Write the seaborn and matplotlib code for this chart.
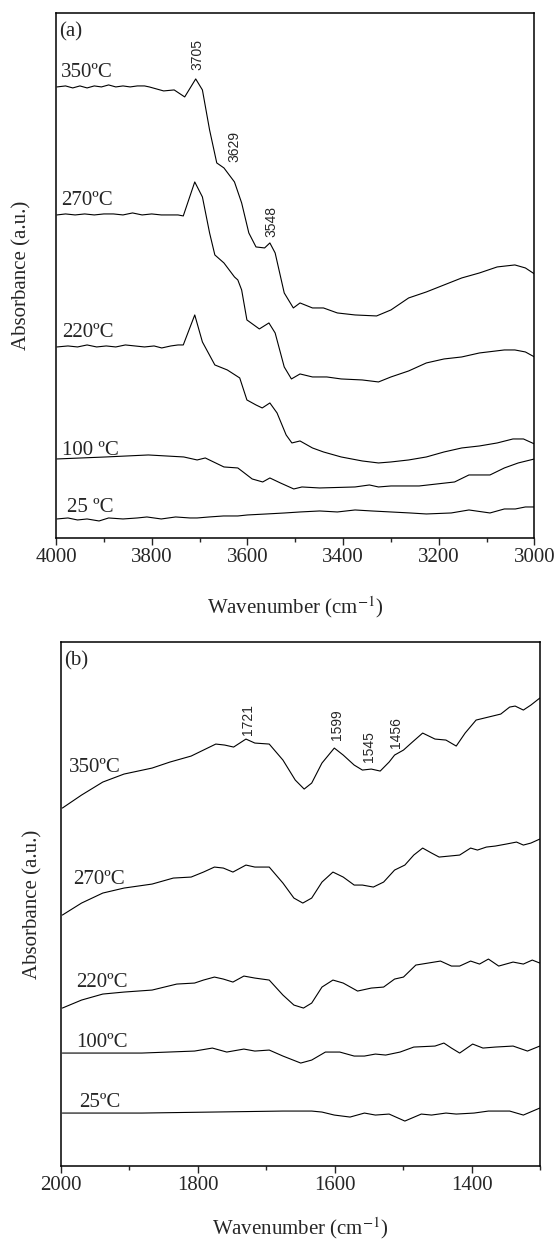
import numpy as np
import pandas as pd
import seaborn as sns
import matplotlib.pyplot as plt
from matplotlib.ticker import MultipleLocator

sns.set_style('ticks')
plt.rcParams['font.family'] = ['Liberation Serif', 'DejaVu Serif']
plt.rcParams['mathtext.fontset'] = 'stix'

# ---- panel (a): OH region ----
wn_a_350 = [3998, 3980, 3965, 3950, 3935, 3920, 3905, 3890, 3875, 3860, 3845, 3830, 3815, 3805, 3790,
            3775, 3753, 3731, 3708, 3694, 3679, 3664, 3649, 3627, 3612, 3597, 3582, 3564, 3553, 3542,
            3523, 3504, 3490, 3464, 3441, 3412, 3375, 3330, 3300, 3263, 3226, 3189, 3152, 3115, 3078,
            3041, 3019, 3000]
ab_a_350 = [4.50, 4.51, 4.49, 4.51, 4.49, 4.51, 4.50, 4.52, 4.50, 4.51, 4.50, 4.51, 4.51, 4.50, 4.48,
            4.46, 4.47, 4.40, 4.58, 4.47, 4.07, 3.74, 3.69, 3.55, 3.34, 3.04, 2.90, 2.89, 2.94, 2.84,
            2.44, 2.29, 2.34, 2.29, 2.29, 2.24, 2.22, 2.21, 2.27, 2.39, 2.45, 2.52, 2.59, 2.64, 2.70,
            2.72, 2.69, 2.63]

wn_a_270 = [3998, 3980, 3960, 3940, 3920, 3900, 3880, 3860, 3840, 3820, 3800, 3780, 3760, 3745, 3734,
            3710, 3694, 3679, 3668, 3649, 3627, 3620, 3612, 3601, 3575, 3555, 3542, 3523, 3508, 3490,
            3464, 3434, 3404, 3360, 3326, 3300, 3263, 3226, 3189, 3152, 3115, 3063, 3041, 3019, 3000]
ab_a_270 = [3.22, 3.23, 3.22, 3.23, 3.22, 3.23, 3.23, 3.22, 3.24, 3.22, 3.23, 3.22, 3.22, 3.22, 3.21,
            3.55, 3.40, 3.04, 2.82, 2.74, 2.60, 2.57, 2.47, 2.17, 2.08, 2.14, 2.04, 1.70, 1.58, 1.63,
            1.60, 1.60, 1.58, 1.57, 1.55, 1.60, 1.66, 1.74, 1.78, 1.80, 1.84, 1.87, 1.87, 1.85, 1.80]

wn_a_220 = [3998, 3975, 3955, 3935, 3915, 3895, 3875, 3855, 3835, 3815, 3795, 3779, 3760, 3745, 3734,
            3710, 3694, 3668, 3642, 3616, 3601, 3582, 3569, 3553, 3538, 3519, 3507, 3490, 3464, 3441,
            3404, 3360, 3326, 3300, 3263, 3226, 3189, 3152, 3115, 3078, 3045, 3023, 3000]
ab_a_220 = [1.90, 1.91, 1.90, 1.92, 1.90, 1.91, 1.90, 1.92, 1.91, 1.90, 1.91, 1.89, 1.91, 1.92, 1.92,
            2.22, 1.95, 1.72, 1.67, 1.59, 1.37, 1.32, 1.29, 1.34, 1.24, 1.02, 0.94, 0.96, 0.89, 0.85,
            0.80, 0.76, 0.74, 0.75, 0.77, 0.80, 0.85, 0.89, 0.91, 0.94, 0.98, 0.98, 0.93]

wn_a_100 = [3998, 3896, 3807, 3733, 3705, 3688, 3649, 3620, 3609, 3590, 3568, 3553, 3531, 3503, 3486,
            3449, 3375, 3345, 3326, 3300, 3241, 3167, 3137, 3093, 3063, 3034, 3000]
ab_a_100 = [0.78, 0.80, 0.82, 0.80, 0.77, 0.79, 0.70, 0.69, 0.65, 0.58, 0.55, 0.59, 0.54, 0.48, 0.50,
            0.49, 0.50, 0.52, 0.50, 0.51, 0.51, 0.55, 0.62, 0.62, 0.69, 0.74, 0.78]

wn_a_25 = [3998, 3975, 3955, 3935, 3910, 3890, 3860, 3830, 3810, 3780, 3750, 3720, 3705, 3680, 3650,
           3620, 3600, 3560, 3522, 3490, 3449, 3412, 3375, 3340, 3300, 3260, 3226, 3174, 3137, 3093,
           3063, 3040, 3019, 3000]
ab_a_25 = [0.18, 0.19, 0.17, 0.18, 0.16, 0.19, 0.18, 0.19, 0.20, 0.18, 0.20, 0.19, 0.19, 0.20, 0.21,
           0.21, 0.22, 0.23, 0.24, 0.25, 0.26, 0.25, 0.27, 0.26, 0.25, 0.24, 0.23, 0.24, 0.27, 0.24,
           0.28, 0.28, 0.30, 0.30]

# ---- panel (b): 2000-1300 region ----
wn_b_350 = [1998, 1970, 1939, 1908, 1867, 1841, 1810, 1792, 1774, 1761, 1748, 1730, 1717, 1696, 1676,
            1658, 1645, 1634, 1619, 1601, 1588, 1572, 1560, 1547, 1534, 1521, 1513, 1500, 1487, 1472,
            1454, 1438, 1423, 1410, 1394, 1376, 1358, 1345, 1337, 1325, 1314, 1301]
ab_b_350 = [3.58, 3.71, 3.84, 3.92, 3.98, 4.04, 4.10, 4.16, 4.22, 4.21, 4.19, 4.27, 4.23, 4.22, 4.06,
            3.86, 3.77, 3.83, 4.03, 4.18, 4.11, 4.01, 3.96, 3.97, 3.95, 4.04, 4.11, 4.16, 4.24, 4.33,
            4.27, 4.26, 4.20, 4.33, 4.46, 4.49, 4.52, 4.59, 4.60, 4.56, 4.61, 4.68]

wn_b_270 = [1998, 1970, 1939, 1908, 1867, 1836, 1810, 1792, 1776, 1763, 1749, 1730, 1717, 1696, 1676,
            1660, 1647, 1634, 1619, 1603, 1588, 1572, 1560, 1544, 1529, 1513, 1498, 1485, 1472, 1459,
            1448, 1418, 1402, 1392, 1379, 1366, 1350, 1335, 1325, 1314, 1301]
ab_b_270 = [2.51, 2.63, 2.73, 2.78, 2.82, 2.88, 2.89, 2.94, 2.99, 2.98, 2.94, 3.01, 2.99, 2.99, 2.83,
            2.68, 2.63, 2.68, 2.84, 2.94, 2.89, 2.81, 2.81, 2.79, 2.84, 2.96, 3.01, 3.11, 3.18, 3.13,
            3.09, 3.11, 3.18, 3.16, 3.19, 3.20, 3.22, 3.24, 3.21, 3.23, 3.27]

wn_b_220 = [1998, 1970, 1939, 1908, 1867, 1831, 1805, 1792, 1776, 1763, 1749, 1733, 1717, 1696, 1676,
            1660, 1646, 1634, 1619, 1603, 1588, 1567, 1547, 1529, 1513, 1500, 1482, 1464, 1446, 1430,
            1418, 1402, 1389, 1376, 1361, 1340, 1325, 1312, 1301]
ab_b_220 = [1.58, 1.66, 1.72, 1.74, 1.76, 1.82, 1.83, 1.86, 1.89, 1.87, 1.84, 1.90, 1.88, 1.86, 1.71,
            1.61, 1.58, 1.63, 1.79, 1.86, 1.83, 1.75, 1.78, 1.79, 1.87, 1.89, 2.01, 2.03, 2.05, 2.00,
            2.00, 2.05, 2.02, 2.07, 2.00, 2.04, 2.02, 2.06, 2.03]

wn_b_100 = [1998, 1882, 1805, 1779, 1758, 1733, 1717, 1696, 1676, 1650, 1634, 1614, 1593, 1572, 1557,
            1541, 1526, 1505, 1485, 1454, 1441, 1430, 1418, 1399, 1384, 1366, 1340, 1319, 1301]
ab_b_100 = [1.13, 1.13, 1.15, 1.18, 1.14, 1.17, 1.15, 1.16, 1.10, 1.03, 1.06, 1.14, 1.14, 1.10, 1.10,
            1.12, 1.11, 1.14, 1.19, 1.20, 1.23, 1.18, 1.13, 1.22, 1.18, 1.19, 1.20, 1.15, 1.20]

wn_b_25 = [1998, 1882, 1779, 1676, 1634, 1619, 1601, 1578, 1557, 1541, 1521, 1498, 1474, 1459, 1438,
           1423, 1397, 1376, 1345, 1325, 1301]
ab_b_25 = [0.53, 0.53, 0.54, 0.55, 0.55, 0.54, 0.51, 0.49, 0.53, 0.51, 0.52, 0.45, 0.52, 0.51, 0.53,
           0.52, 0.53, 0.55, 0.55, 0.51, 0.58]

# curve labels and peak labels
labels_a = ['350ºC', '270ºC', '220ºC', '100 ºC', '25 ºC']
label_x_a = [3990, 3990, 3987, 3987, 3978]
label_y_a = [4.645, 3.36, 2.045, 0.86, 0.29]
peaks_a = ['3705', '3629', '3548']
peak_x_a = [3705, 3627, 3549]
peak_y_a = [4.67, 3.75, 3.00]

labels_b = ['350ºC', '270ºC', '220ºC', '100ºC', '25ºC']
label_x_b = [1988, 1983, 1978, 1978, 1974]
label_y_b = [3.985, 2.87, 1.84, 1.235, 0.635]
peaks_b = ['1721', '1599', '1545', '1456']
peak_x_b = [1727, 1597, 1550, 1511]
peak_y_b = [4.31, 4.26, 4.04, 4.18]

series_a = [(wn_a_350, ab_a_350), (wn_a_270, ab_a_270), (wn_a_220, ab_a_220),
            (wn_a_100, ab_a_100), (wn_a_25, ab_a_25)]
series_b = [(wn_b_350, ab_b_350), (wn_b_270, ab_b_270), (wn_b_220, ab_b_220),
            (wn_b_100, ab_b_100), (wn_b_25, ab_b_25)]

fig = plt.figure(figsize=(5.56, 12.43), dpi=100)
ax_a = fig.add_axes([0.1007, 0.5672, 0.8606, 0.4224])
ax_b = fig.add_axes([0.1097, 0.0619, 0.8624, 0.4218])


def draw_panel(ax, series, xlim, ylim, major, minor, tag, labels, lx, ly,
               peaks, px, py, ypad, xpad):
    for wn, ab in series:
        df = pd.DataFrame({'wn': wn, 'ab': ab})
        sns.lineplot(data=df, x='wn', y='ab', ax=ax, color='k', lw=0.8,
                     sort=False, estimator=None)
    ax.set_xlim(*xlim)
    ax.set_ylim(*ylim)
    ax.xaxis.set_major_locator(MultipleLocator(major))
    ax.xaxis.set_minor_locator(MultipleLocator(minor))
    ax.set_yticks([])
    ax.tick_params(axis='x', which='major', direction='out', length=5, width=1,
                   labelsize=15, pad=2, top=False)
    ax.tick_params(axis='x', which='minor', direction='out', length=3, width=1, top=False)
    for sp in ax.spines.values():
        sp.set_linewidth(1.1)
        sp.set_color('k')
    ax.set_xlabel('Wavenumber (cm$^{-1}$)', fontsize=15, labelpad=xpad)
    ax.set_ylabel('Absorbance (a.u.)', fontsize=15, labelpad=ypad)
    ax.text(xlim[0] - (xlim[0] - xlim[1]) * 0.006, ylim[1] - 0.19, tag,
            fontsize=15, ha='left', va='center')
    for t, x, y in zip(labels, lx, ly):
        ax.text(x, y, t, fontsize=15, ha='left', va='center')
    for t, x, y in zip(peaks, px, py):
        ax.text(x, y, t, fontsize=10, rotation=90, ha='center', va='bottom',
                family=['Liberation Sans', 'DejaVu Sans'])


draw_panel(ax_a, series_a, (4000, 3000), (-0.01, 5.24), 200, 100, '(a)',
           labels_a, label_x_a, label_y_a, peaks_a, peak_x_a, peak_y_a, 18, 20)
draw_panel(ax_b, series_b, (2000, 1300), (0, 5.243), 200, 100, '(b)',
           labels_b, label_x_b, label_y_b, peaks_b, peak_x_b, peak_y_b, 13, 15)

fig.savefig('out.png', dpi=100)
